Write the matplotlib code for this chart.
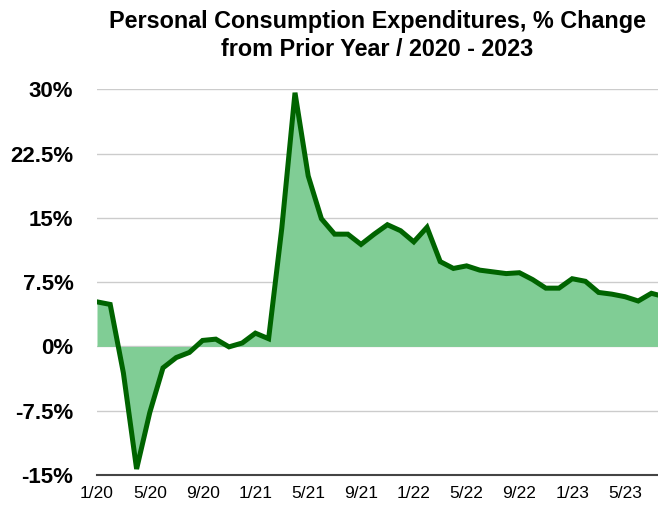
import matplotlib
matplotlib.use("Agg")
import matplotlib.pyplot as plt
import numpy as np

# monthly PCE, % change from prior year, 1/20 .. 8/23
months = ["1/20", "2/20", "3/20", "4/20", "5/20", "6/20", "7/20", "8/20", "9/20", "10/20", "11/20", "12/20",
          "1/21", "2/21", "3/21", "4/21", "5/21", "6/21", "7/21", "8/21", "9/21", "10/21", "11/21", "12/21",
          "1/22", "2/22", "3/22", "4/22", "5/22", "6/22", "7/22", "8/22", "9/22", "10/22", "11/22", "12/22",
          "1/23", "2/23", "3/23", "4/23", "5/23", "6/23", "7/23", "8/23"]
pce = [5.2, 4.9, -3.1, -14.3, -7.7, -2.5, -1.3, -0.7, 0.7, 0.85, -0.05, 0.4,
       1.55, 0.9, 13.8, 29.6, 19.9, 14.9, 13.1, 13.1, 11.9, 13.1, 14.2, 13.5,
       12.2, 13.9, 9.9, 9.1, 9.4, 8.9, 8.7, 8.5, 8.6, 7.8, 6.8, 6.8,
       7.9, 7.6, 6.3, 6.1, 5.8, 5.3, 6.2, 5.8]
tick_labels = ["1/20", "5/20", "9/20", "1/21", "5/21", "9/21", "1/22", "5/22", "9/22", "1/23", "5/23"]
y_ticks = [-15, -7.5, 0, 7.5, 15, 22.5, 30]
y_labels = ["-15%", "-7.5%", "0%", "7.5%", "15%", "22.5%", "30%"]

plt.rcParams['font.family'] = ['Liberation Sans', 'DejaVu Sans']

fig = plt.figure(figsize=(6.58, 5.07), dpi=100)
ax = fig.add_axes([97/658, 1 - 475/507, 1 - 97/658, (475 - 89.3)/507])

x = np.arange(len(pce))
ax.fill_between(x, pce, 0, color="#80cd95", lw=0, zorder=2)
ax.plot(x, pce, color="#006400", lw=3.6, solid_joinstyle="miter", zorder=3)

ax.set_xlim(0, 42.5)
ax.set_ylim(-15, 30)
ax.set_yticks(y_ticks)
ax.set_yticklabels(y_labels, fontsize=16, fontweight="bold")
ax.set_xticks([months.index(m) for m in tick_labels])
ax.set_xticklabels(tick_labels, fontsize=12.5)
ax.tick_params(axis="y", length=0, pad=17)
ax.tick_params(axis="x", length=0, pad=8)
ax.grid(axis="y", color="#cccccc", lw=1, zorder=1)
ax.set_axisbelow(True)

for s in ["top", "right", "left"]:
    ax.spines[s].set_visible(False)
ax.spines["bottom"].set_color("#444444")
ax.spines["bottom"].set_linewidth(1.5)
ax.spines["bottom"].set_zorder(4)

ax.set_title("Personal Consumption Expenditures, % Change\nfrom Prior Year / 2020 - 2023",
             fontsize=16.8, fontweight="bold", pad=24, linespacing=1.3)

fig.savefig("out.png", dpi=100)
